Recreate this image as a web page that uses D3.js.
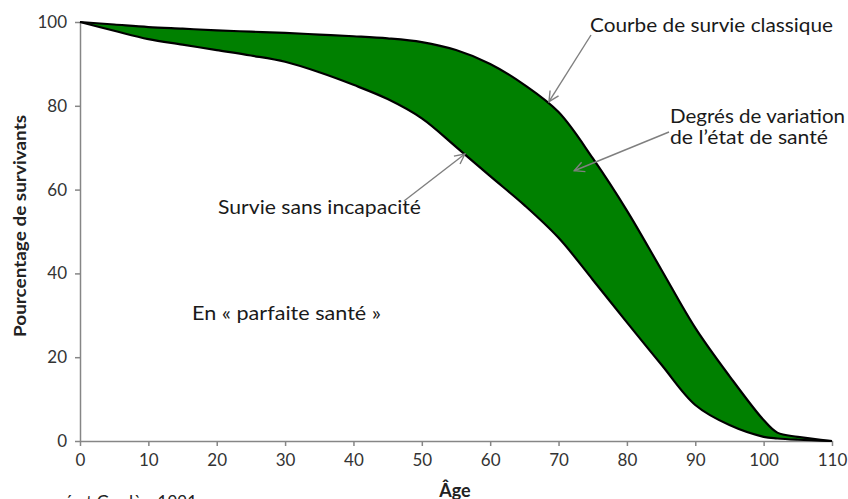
<!DOCTYPE html>
<html>
<head>
<meta charset="utf-8">
<script src="https://cdn.jsdelivr.net/npm/d3@7"></script>
<style>
  body { margin: 0; background: #fff; }
  svg { display: block; font-family: Lato, "Open Sans", sans-serif; }
</style>
</head>
<body>
<svg></svg>
<script>
const width = 848;
const height = 499;

// ages (years) and survivor percentages
const ages = [0, 5, 10, 15, 20, 25, 30, 35, 40, 45, 50, 55, 60, 65, 70, 75, 80, 85, 90, 95, 100, 102, 105, 110];
const classic = [100, 99.4, 98.8, 98.4, 98, 97.7, 97.4, 97, 96.6, 96.1, 95.2, 93.3, 90, 85, 78.5, 67.5, 55, 41, 27, 15.5, 5, 2, 1, 0];
const disabilityFree = [100, 97.9, 95.9, 94.6, 93.3, 92, 90.5, 88, 85, 81.6, 77, 70.2, 63.2, 56.3, 48.5, 38.5, 28.3, 18.3, 8.6, 3.8, 1, 0.6, 0.3, 0];

const xTicks = [0, 10, 20, 30, 40, 50, 60, 70, 80, 90, 100, 110];
const yTicks = [0, 20, 40, 60, 80, 100];

const rows = ages.map((a, i) => ({ age: a, top: classic[i], bottom: disabilityFree[i] }));

const margin = { left: 80, right: 16, top: 22, bottom: 58 };

const x = d3.scaleLinear().domain([0, 110]).range([margin.left, width - margin.right]);
const y = d3.scaleLinear().domain([0, 100]).range([height - margin.bottom, margin.top]);

const svg = d3.select('svg')
  .attr('width', width)
  .attr('height', height);

const defs = svg.append('defs');
defs.append('marker')
  .attr('id', 'arrow')
  .attr('viewBox', '0 0 12 12')
  .attr('refX', 11)
  .attr('refY', 6)
  .attr('markerWidth', 12)
  .attr('markerHeight', 12)
  .attr('markerUnits', 'userSpaceOnUse')
  .attr('orient', 'auto')
  .append('path')
  .attr('d', 'M1,1L11,6L1,11')
  .attr('fill', 'none')
  .attr('stroke', '#7f7f7f')
  .attr('stroke-width', 1.4);

// axes
const xAxis = svg.append('g')
  .attr('transform', `translate(0,${y(0)})`)
  .call(d3.axisBottom(x).tickValues(xTicks).tickSize(5).tickPadding(8).tickSizeOuter(0));

const yAxis = svg.append('g')
  .attr('transform', `translate(${x(0)},0)`)
  .call(d3.axisLeft(y).tickValues(yTicks).tickSize(5).tickPadding(8).tickSizeOuter(0));

[xAxis, yAxis].forEach((g) => {
  g.select('.domain').attr('stroke', '#868686').attr('stroke-width', 1.5);
  g.selectAll('.tick line').attr('stroke', '#868686').attr('stroke-width', 1.5);
  g.selectAll('.tick text')
    .attr('fill', '#333')
    .style('font-family', 'Lato, sans-serif')
    .style('font-size', '17px');
});

// band between the two curves
const curve = d3.curveCatmullRom.alpha(0.5);

const area = d3.area()
  .x((d) => x(d.age))
  .y0((d) => y(d.bottom))
  .y1((d) => y(d.top))
  .curve(curve);

svg.append('path')
  .datum(rows)
  .attr('d', area)
  .attr('fill', '#008000')
  .attr('stroke', 'none');

const lineTop = d3.line().x((d) => x(d.age)).y((d) => y(d.top)).curve(curve);
const lineBottom = d3.line().x((d) => x(d.age)).y((d) => y(d.bottom)).curve(curve);

svg.append('path').datum(rows).attr('d', lineTop)
  .attr('fill', 'none').attr('stroke', '#000').attr('stroke-width', 2.2);
svg.append('path').datum(rows).attr('d', lineBottom)
  .attr('fill', 'none').attr('stroke', '#000').attr('stroke-width', 2.2);

// axis titles
svg.append('text')
  .attr('transform', `translate(26,226) rotate(-90)`)
  .attr('text-anchor', 'middle')
  .attr('textLength', 222)
  .attr('lengthAdjust', 'spacingAndGlyphs')
  .style('font-weight', 'bold')
  .style('font-size', '17px')
  .attr('fill', '#222')
  .text('Pourcentage de survivants');

svg.append('text')
  .attr('x', 455)
  .attr('y', 497)
  .attr('text-anchor', 'middle')
  .style('font-weight', 'bold')
  .style('font-size', '18px')
  .attr('fill', '#222')
  .text('Âge');

svg.append('text')
  .attr('x', 197)
  .attr('y', 508)
  .attr('text-anchor', 'end')
  .style('font-size', '17px')
  .attr('fill', '#222')
  .text('ré et Gardès, 1991');

// annotations (w = rendered width of each line)
const notes = [
  { lines: ['Courbe de survie classique'], w: [243], x: 590, y: 32 },
  { lines: ['Degrés de variation', 'de l’état de santé'], w: [175, 158], x: 670, y: 123 },
  { lines: ['Survie sans incapacité'], w: [203], x: 218, y: 214 },
  { lines: ['En « parfaite santé »'], w: [189], x: 192, y: 320 }
];

notes.forEach((n) => {
  const t = svg.append('text')
    .attr('x', n.x)
    .attr('y', n.y)
    .style('font-size', '19px')
    .attr('fill', '#1a1a1a');
  n.lines.forEach((l, i) => {
    t.append('tspan')
      .attr('x', n.x)
      .attr('dy', i === 0 ? 0 : 21)
      .attr('textLength', n.w[i])
      .attr('lengthAdjust', 'spacingAndGlyphs')
      .text(l);
  });
});

// arrows: from label to the curve (age, value)
const arrows = [
  { x1: 591, y1: 35, age: 68.6, value: 81 },
  { x1: 669, y1: 132, age: 72.3, value: 64.5 },
  { x1: 404, y1: 201, age: 56.3, value: 68.5 }
];

svg.append('g').selectAll('line')
  .data(arrows)
  .join('line')
  .attr('x1', (d) => d.x1)
  .attr('y1', (d) => d.y1)
  .attr('x2', (d) => x(d.age))
  .attr('y2', (d) => y(d.value))
  .attr('stroke', '#7f7f7f')
  .attr('stroke-width', 1.4)
  .attr('marker-end', 'url(#arrow)');
</script>
</body>
</html>
